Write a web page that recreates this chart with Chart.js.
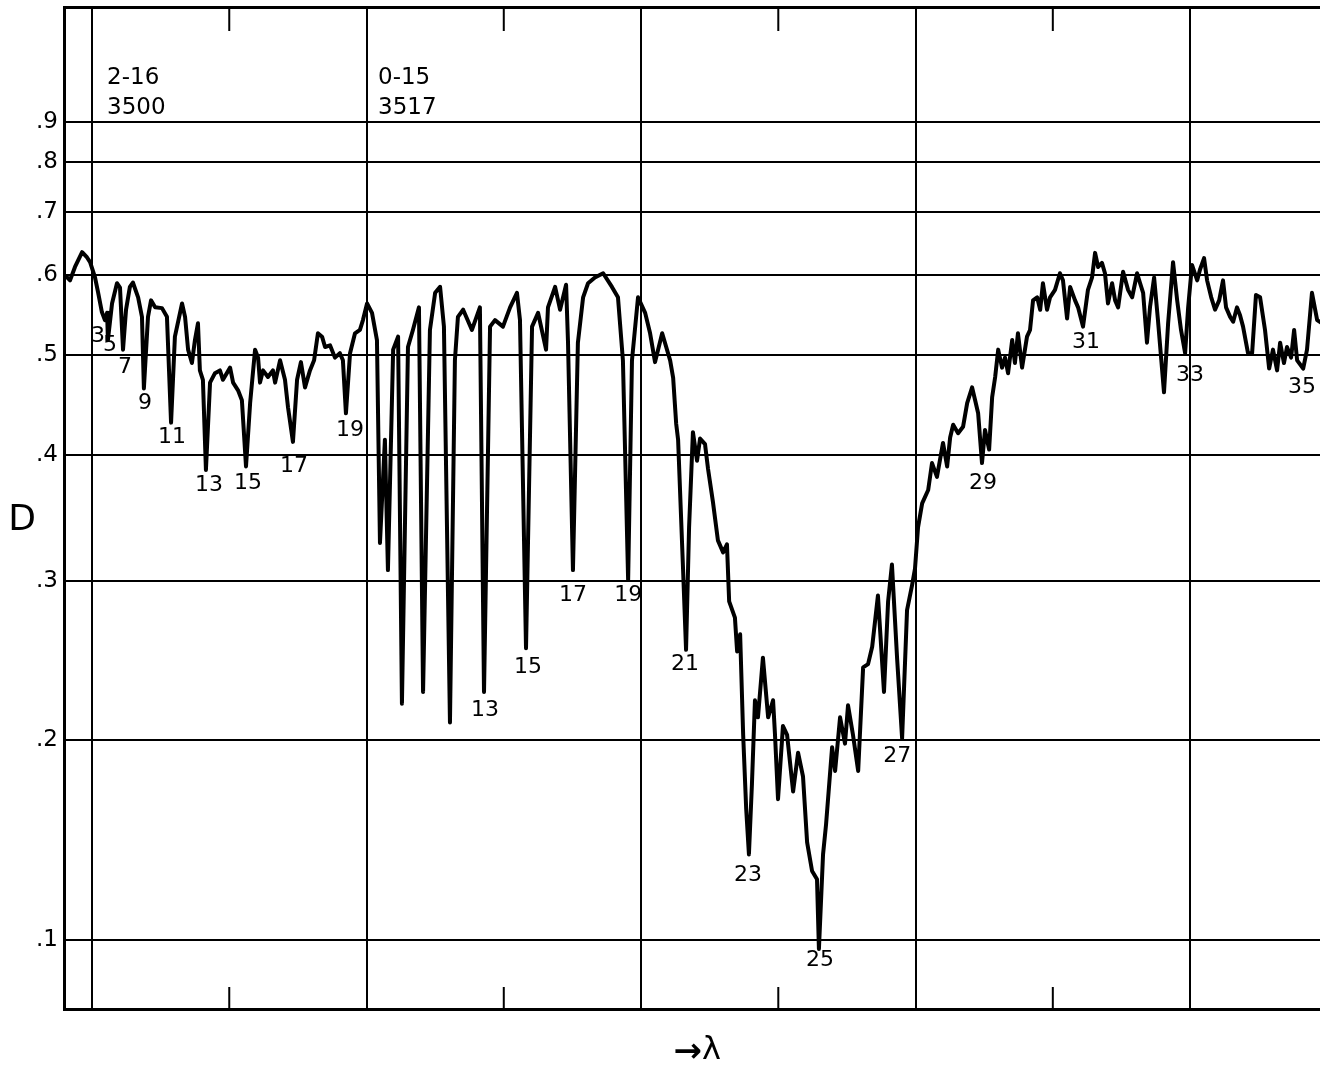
<!DOCTYPE html>
<html>
<head>
<meta charset="utf-8">
<title>D vs lambda</title>
<script src="https://cdn.jsdelivr.net/npm/chart.js@4.4.1/dist/chart.umd.min.js"></script>
<style>
    html, body { margin: 0; padding: 0; background: #fff; overflow: hidden; }
    canvas { display: block; }
</style>
</head>
<body>
<canvas id="densityChart" width="1360" height="1072"></canvas>
<script>
// Posicion en longitud de onda (unidades arbitrarias, una linea de rejilla cada 10)
var lambdaPos = [
    -0.98, -0.80, -0.62, -0.36, -0.18, -0.07, 0.11, 0.22, 0.36, 0.47, 0.55, 0.58,
    0.73, 0.91, 1.02, 1.13, 1.24, 1.38, 1.49, 1.68, 1.82, 1.89, 2.04, 2.15,
    2.30, 2.55, 2.73, 2.88, 3.02, 3.28, 3.39, 3.50, 3.64, 3.75, 3.86, 3.93,
    4.04, 4.15, 4.30,
    4.48, 4.66, 4.77, 5.03, 5.14, 5.32, 5.46, 5.61, 5.76, 5.94, 6.05, 6.12,
    6.23, 6.41, 6.59, 6.67, 6.85, 7.03, 7.14, 7.32, 7.47, 7.61, 7.76, 7.94,
    8.09, 8.23, 8.38, 8.49, 8.67, 8.85, 9.03, 9.14, 9.25, 9.40, 9.58, 9.76, 9.87,
    10.02, 10.20, 10.38, 10.49, 10.67, 10.78, 10.97, 11.15, 11.29, 11.51, 11.69, 11.91, 12.06, 12.31,
    12.50, 12.68, 12.82, 13.04, 13.22, 13.33, 13.52, 13.84, 14.13, 14.28, 14.50, 14.68,
    14.97, 15.23, 15.48, 15.59, 15.81, 16.03, 16.25, 16.54, 16.61, 16.87, 17.05, 17.27,
    17.34, 17.52, 17.70, 17.89, 18.07, 18.32, 18.62, 18.94, 19.16, 19.34, 19.53, 19.67,
    19.89, 20.15, 20.33, 20.51, 20.77, 21.06, 21.17, 21.28, 21.35, 21.53, 21.64, 21.75,
    21.89, 22.04, 22.15, 22.33, 22.44, 22.62, 22.80, 22.99, 23.13, 23.21, 23.42, 23.50,
    23.61, 23.72, 23.83, 23.93, 24.04, 24.15, 24.26, 24.44, 24.63, 24.81, 24.88, 24.99,
    25.17, 25.32, 25.54, 25.72, 25.90, 26.05, 26.23, 26.41, 26.48, 26.63, 26.74, 26.96,
    27.07, 27.25, 27.43, 27.54, 27.72, 27.91, 28.09, 28.27, 28.42, 28.63, 28.85, 29.00,
    29.14, 29.33, 29.51, 29.69, 29.87, 29.98, 30.09, 30.24, 30.46, 30.60, 30.78,
    31.00, 31.15, 31.26, 31.37, 31.55, 31.73, 31.88, 32.06, 32.17, 32.28, 32.42, 32.53,
    32.68, 32.79, 32.90, 33.01, 33.15, 33.26, 33.37, 33.52, 33.62, 33.73, 33.88, 34.06,
    34.17, 34.28, 34.43, 34.54, 34.64, 34.79, 34.90, 35.08, 35.26, 35.37, 35.52, 35.63,
    35.81, 35.92, 36.10, 36.28, 36.43, 36.54, 36.65, 36.79, 36.90, 37.01, 37.16, 37.27,
    37.38, 37.56, 37.74, 37.89, 38.07, 38.18, 38.29, 38.43, 38.54, 38.69, 38.83, 39.05,
    39.20, 39.38, 39.53, 39.67, 39.82, 39.93, 40.07, 40.26, 40.36, 40.51, 40.62, 40.77,
    40.91, 41.06, 41.20, 41.31, 41.46, 41.57, 41.71, 41.82, 41.93, 42.11, 42.26, 42.40,
    42.55, 42.73, 42.88, 43.02, 43.17, 43.28, 43.42, 43.53, 43.68, 43.79, 43.90, 44.12,
    44.26, 44.44, 44.63, 44.81
];

var densityD = [
    0.600, 0.593, 0.612, 0.634, 0.626, 0.619, 0.597, 0.577, 0.551, 0.541, 0.550, 0.517,
    0.562, 0.589, 0.583, 0.506, 0.554, 0.584, 0.590, 0.570, 0.545, 0.464, 0.545, 0.566,
    0.557, 0.556, 0.545, 0.430, 0.521, 0.562, 0.545, 0.506, 0.491, 0.517, 0.537, 0.483,
    0.473, 0.387, 0.470,
    0.480, 0.483, 0.473, 0.486, 0.470, 0.462, 0.452, 0.390, 0.449, 0.506, 0.497, 0.470,
    0.483, 0.476, 0.483, 0.470, 0.494, 0.473, 0.445, 0.412, 0.473, 0.492, 0.465, 0.483,
    0.494, 0.525, 0.521, 0.509, 0.511, 0.497, 0.502, 0.494, 0.439, 0.502, 0.525, 0.529, 0.541,
    0.562, 0.550, 0.517, 0.328, 0.414, 0.308, 0.506, 0.521, 0.221, 0.509, 0.529, 0.557, 0.228, 0.529,
    0.576, 0.584, 0.533, 0.210, 0.494, 0.545, 0.554, 0.529, 0.557, 0.228, 0.533, 0.541,
    0.533, 0.557, 0.576, 0.541, 0.255, 0.533, 0.550, 0.506, 0.557, 0.584, 0.554, 0.587,
    0.514, 0.308, 0.514, 0.570, 0.589, 0.597, 0.603, 0.584, 0.570, 0.494, 0.301, 0.494,
    0.570, 0.550, 0.525, 0.492, 0.525, 0.494, 0.475, 0.429, 0.414, 0.309, 0.254, 0.340,
    0.421, 0.395, 0.415, 0.410, 0.388, 0.360, 0.330, 0.321, 0.327, 0.286, 0.275, 0.253,
    0.264, 0.203, 0.163, 0.140, 0.176, 0.223, 0.213, 0.249, 0.213, 0.223, 0.203, 0.168,
    0.208, 0.203, 0.172, 0.193, 0.180, 0.146, 0.132, 0.128, 0.096, 0.140, 0.155, 0.196,
    0.183, 0.213, 0.198, 0.220, 0.203, 0.183, 0.243, 0.245, 0.256, 0.290, 0.228, 0.286,
    0.312, 0.248, 0.201, 0.280, 0.297, 0.309, 0.340, 0.359, 0.370, 0.393, 0.381,
    0.411, 0.390, 0.416, 0.428, 0.420, 0.426, 0.449, 0.465, 0.452, 0.439, 0.393, 0.423,
    0.405, 0.455, 0.476, 0.506, 0.486, 0.497, 0.480, 0.517, 0.491, 0.525, 0.486, 0.521,
    0.529, 0.566, 0.570, 0.554, 0.589, 0.554, 0.570, 0.580, 0.603, 0.593, 0.543, 0.584,
    0.566, 0.557, 0.533, 0.580, 0.597, 0.633, 0.612, 0.618, 0.603, 0.562, 0.589, 0.566,
    0.557, 0.605, 0.580, 0.570, 0.603, 0.589, 0.576, 0.514, 0.557, 0.597, 0.541, 0.460,
    0.537, 0.619, 0.566, 0.529, 0.502, 0.557, 0.615, 0.593, 0.608, 0.625, 0.593, 0.570,
    0.554, 0.566, 0.593, 0.557, 0.545, 0.539, 0.557, 0.547, 0.533, 0.502, 0.502, 0.573,
    0.570, 0.529, 0.485, 0.506, 0.483, 0.514, 0.491, 0.509, 0.497, 0.529, 0.494, 0.485,
    0.506, 0.576, 0.541, 0.537
];

// Marcas del eje D
var densityTicks = [0.1, 0.2, 0.3, 0.4, 0.5, 0.6, 0.7, 0.8, 0.9];
var densityTickLabels = ['.1', '.2', '.3', '.4', '.5', '.6', '.7', '.8', '.9'];

// Rejilla vertical y marcas cortas del eje lambda
var majorLambda = [0, 10, 20, 30, 40];
var minorLambda = [5, 15, 25, 35];

// Numeros de linea junto a los minimos
var lineLabels = ['3', '5', '7', '9', '11', '13', '15', '17', '19',
    '13', '15', '17', '19', '21', '23', '25', '27', '29', '31', '33', '35'];
var lineLabelPos = [0.22, 0.66, 1.20, 1.93, 2.91, 4.26, 5.68, 7.36, 9.40,
    14.32, 15.88, 17.52, 19.53, 21.60, 23.90, 26.52, 29.33, 32.46, 36.21, 40.00, 44.08];
var lineLabelD = [0.522, 0.511, 0.486, 0.449, 0.416, 0.374, 0.376, 0.390, 0.423,
    0.217, 0.243, 0.290, 0.290, 0.245, 0.130, 0.091, 0.191, 0.376, 0.514, 0.478, 0.465];

// Cabezas de banda
var bandNames = ['2-16', '0-15'];
var bandWaves = ['3500', '3517'];
var bandPos = [0.55, 10.42];
var bandNameD = 1.046;
var bandWaveD = 0.941;

// Escala del eje: lineal en transmision T = 10^-D
function toT(d) {
    return Math.pow(10, -d);
}

var FONT = '"DejaVu Sans", "Liberation Sans", sans-serif';

// Marcas cortas hacia dentro arriba y abajo
var shortTicksPlugin = {
    id: 'shortTicks',
    afterDraw: function(chart) {
        var ctx = chart.ctx;
        var area = chart.chartArea;
        var xs = chart.scales.x;
        ctx.save();
        ctx.strokeStyle = '#000';
        ctx.lineWidth = 2;
        minorLambda.forEach(function(v) {
            var px = xs.getPixelForValue(v);
            ctx.beginPath();
            ctx.moveTo(px, area.top);
            ctx.lineTo(px, area.top + 24);
            ctx.moveTo(px, area.bottom);
            ctx.lineTo(px, area.bottom - 22);
            ctx.stroke();
        });
        ctx.restore();
    }
};

// Textos: numeros de linea, bandas, D y la flecha lambda
var textPlugin = {
    id: 'chartTexts',
    afterDraw: function(chart) {
        var ctx = chart.ctx;
        var area = chart.chartArea;
        var xs = chart.scales.x;
        var ys = chart.scales.y;
        ctx.save();
        ctx.fillStyle = '#000';
        ctx.textBaseline = 'middle';

        ctx.textAlign = 'center';
        ctx.font = '22px ' + FONT;
        lineLabels.forEach(function(txt, i) {
            ctx.fillText(txt, xs.getPixelForValue(lineLabelPos[i]), ys.getPixelForValue(toT(lineLabelD[i])));
        });

        ctx.textAlign = 'left';
        ctx.font = '23px ' + FONT;
        bandNames.forEach(function(txt, i) {
            var px = xs.getPixelForValue(bandPos[i]);
            ctx.fillText(txt, px, ys.getPixelForValue(toT(bandNameD)));
            ctx.fillText(bandWaves[i], px, ys.getPixelForValue(toT(bandWaveD)));
        });

        ctx.textAlign = 'center';
        ctx.font = '36px ' + FONT;
        ctx.fillText('D', area.left - 42, ys.getPixelForValue(toT(0.345)));

        var midX = 694;
        ctx.font = 'bold 34px ' + FONT;
        ctx.textAlign = 'right';
        ctx.fillText('\u2192', midX + 8, area.bottom + 44);
        ctx.font = '32px ' + FONT;
        ctx.textAlign = 'left';
        ctx.fillText('\u03bb', midX + 8, area.bottom + 42);
        ctx.restore();
    }
};

document.addEventListener('DOMContentLoaded', function() {
    var ctx = document.getElementById('densityChart');

    new Chart(ctx, {
        type: 'line',
        data: {
            datasets: [{
                data: lambdaPos.map(function(x, i) {
                    return { x: x, y: toT(densityD[i]) };
                }),
                borderColor: '#000',
                borderWidth: 4,
                borderJoinStyle: 'round',
                pointRadius: 0,
                tension: 0,
                fill: false
            }]
        },
        options: {
            responsive: false,
            animation: false,
            layout: { padding: { top: 7, right: 0, bottom: 0, left: 0 } },
            plugins: {
                legend: { display: false },
                tooltip: { enabled: false }
            },
            scales: {
                x: {
                    type: 'linear',
                    position: 'bottom',
                    min: -1.02,
                    max: 46.19,
                    afterBuildTicks: function(scale) {
                        scale.ticks = majorLambda.map(function(v) { return { value: v }; });
                    },
                    afterFit: function(scale) {
                        scale.height = 63;
                        scale.paddingLeft = 0;
                        scale.paddingRight = 0;
                    },
                    ticks: { display: false },
                    grid: { color: '#000', lineWidth: 2, drawTicks: false },
                    border: { display: true, color: '#000', width: 3 }
                },
                xTop: {
                    type: 'linear',
                    position: 'top',
                    display: true,
                    min: -1.02,
                    max: 46.19,
                    afterFit: function(scale) {
                        scale.height = 0;
                        scale.paddingLeft = 0;
                        scale.paddingRight = 0;
                    },
                    ticks: { display: false },
                    grid: { display: false, drawTicks: false },
                    border: { display: true, color: '#000', width: 3 }
                },
                y: {
                    type: 'linear',
                    reverse: true,
                    min: 0.0319,
                    max: 0.8507,
                    afterBuildTicks: function(scale) {
                        scale.ticks = densityTicks.map(function(d) { return { value: toT(d) }; });
                    },
                    afterFit: function(scale) {
                        scale.width = 64;
                        scale.paddingTop = 0;
                        scale.paddingBottom = 0;
                    },
                    ticks: {
                        autoSkip: false,
                        padding: 6,
                        color: '#000',
                        font: { family: FONT, size: 23 },
                        callback: function(value, index) {
                            return densityTickLabels[index];
                        }
                    },
                    grid: { color: '#000', lineWidth: 2, drawTicks: false },
                    border: { display: true, color: '#000', width: 3 }
                }
            }
        },
        plugins: [shortTicksPlugin, textPlugin]
    });
});
</script>
</body>
</html>
